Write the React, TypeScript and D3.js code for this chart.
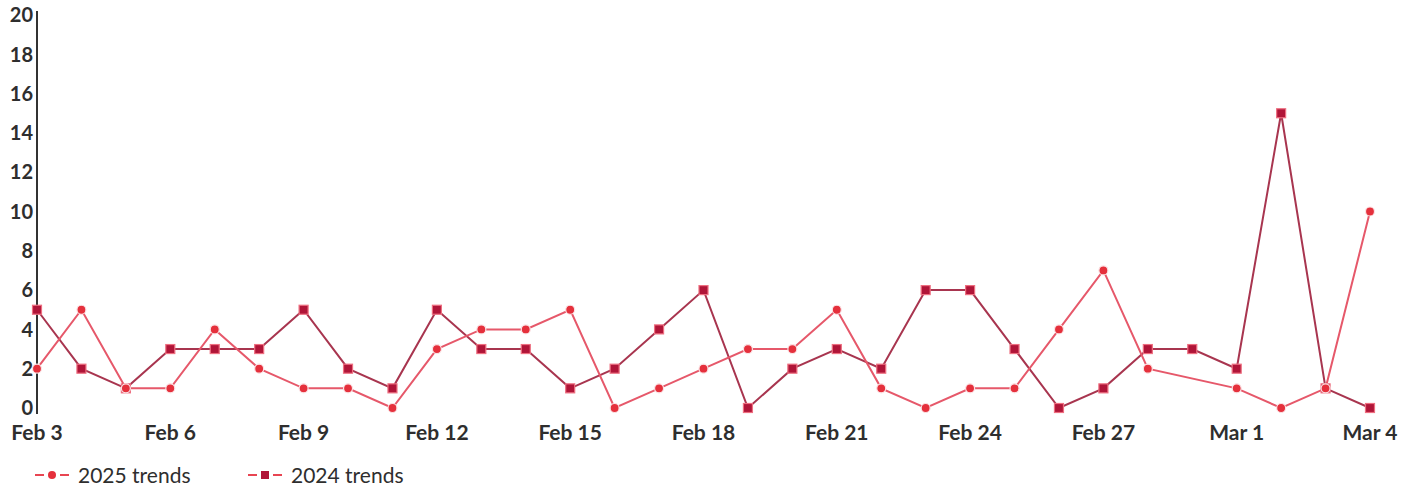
import React from "react";
import * as d3 from "d3";

const categories = [
  "Feb 3","Feb 4","Feb 5","Feb 6","Feb 7","Feb 8","Feb 9","Feb 10","Feb 11","Feb 12",
  "Feb 13","Feb 14","Feb 15","Feb 16","Feb 17","Feb 18","Feb 19","Feb 20","Feb 21","Feb 22",
  "Feb 23","Feb 24","Feb 25","Feb 26","Feb 27","Feb 28","Feb 29","Mar 1","Mar 2","Mar 3","Mar 4",
];
const trends2025: (number | null)[] = [2,5,1,1,4,2,1,1,0,3,4,4,5,0,1,2,3,3,5,1,0,1,1,4,7,2,null,1,0,1,10];
const trends2024: (number | null)[] = [5,2,1,3,3,3,5,2,1,5,3,3,1,2,4,6,0,2,3,2,6,6,3,0,1,3,3,2,15,1,0];
const yTicks = [0,2,4,6,8,10,12,14,16,18,20];
const xTickLabels = ["Feb 3","Feb 6","Feb 9","Feb 12","Feb 15","Feb 18","Feb 21","Feb 24","Feb 27","Mar 1","Mar 4"];

const W = 1417, H = 490;
const C25 = "#e5303c";
const L25 = "#e6586a";
const C24 = "#b01538";
const L24 = "#a8354f";
const FONT = "Lato, 'Open Sans', sans-serif";
const TXT = "#2e2e2e";

export default function App() {
  const x = d3.scaleLinear().domain([0, categories.length - 1]).range([37, 1370]);
  const y = d3.scaleLinear().domain([0, 20]).range([408, 15]);
  const line = d3.line<[number, number | null]>()
    .defined(d => d[1] !== null)
    .x(d => x(d[0]))
    .y(d => y(d[1] as number));
  const pts = (arr: (number | null)[]) =>
    arr.map((v, i) => [i, v] as [number, number | null]).filter(d => d[1] !== null);

  const legend = [
    { label: "2025 trends", x: 35, kind: "circle" },
    { label: "2024 trends", x: 248, kind: "square" },
  ];

  return (
    <svg width={W} height={H} style={{ position: "absolute", left: 0, top: 0 }} fontFamily={FONT}>
      <rect width={W} height={H} fill="#fff" />
      <line x1={37} x2={37} y1={y(20) - 4} y2={y(0) + 6} stroke="#333" strokeWidth={2} />
      {yTicks.map(t => (
        <text key={t} x={33} y={y(t)} dy="0.36em" textAnchor="end" fontSize={20} fontWeight={700} fill={TXT}>{t}</text>
      ))}
      {xTickLabels.map(lbl => (
        <text key={lbl} x={x(categories.indexOf(lbl))} y={440} textAnchor="middle" fontSize={21} fontWeight={700} fill={TXT}>{lbl}</text>
      ))}
      <path d={line(pts(trends2024)) || ""} fill="none" stroke={L24} strokeWidth={2} />
      {pts(trends2024).map(d => (
        <rect key={"s" + d[0]} x={x(d[0]) - 4.5} y={y(d[1] as number) - 4.5} width={9} height={9} fill={C24} stroke="#ee6f80" strokeWidth={1.2} />
      ))}
      <path d={line(pts(trends2025)) || ""} fill="none" stroke={L25} strokeWidth={2} />
      {pts(trends2025).map(d => (
        <circle key={"c" + d[0]} cx={x(d[0])} cy={y(d[1] as number)} r={4.5} fill={C25} stroke="#fbe3e5" strokeWidth={1.2} />
      ))}
      {legend.map(l => (
        <g key={l.label} transform={`translate(${l.x},475)`}>
          <line x1={0} x2={9} y1={0} y2={0} stroke="#e84552" strokeWidth={2} />
          <line x1={25} x2={34} y1={0} y2={0} stroke="#e84552" strokeWidth={2} />
          {l.kind === "circle"
            ? <circle cx={17} cy={0} r={4} fill={C25} />
            : <rect x={13} y={-4} width={8} height={8} fill={C24} />}
          <text x={43} y={0} dy="0.36em" fontSize={21} fontWeight={400} fill={TXT}>{l.label}</text>
        </g>
      ))}
    </svg>
  );
}
